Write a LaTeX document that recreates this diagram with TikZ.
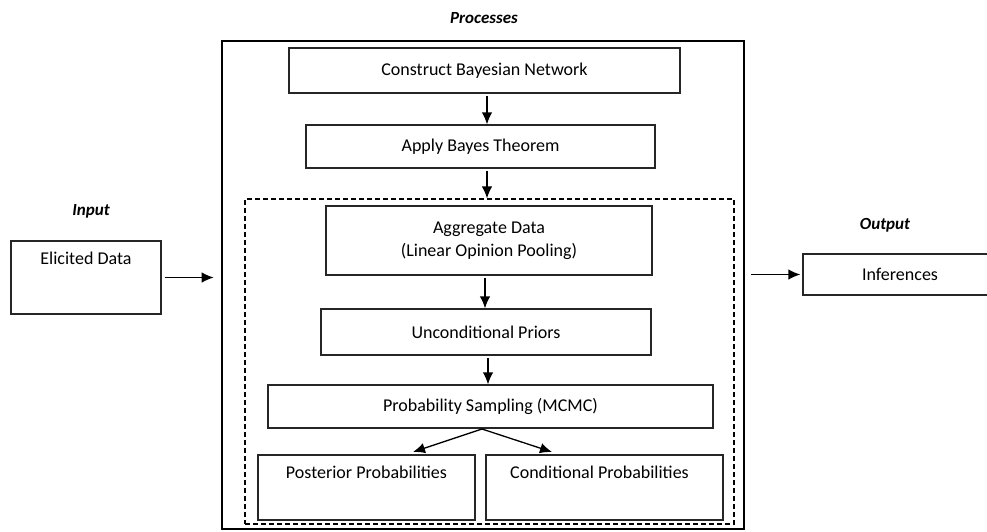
\documentclass[tikz,border=0pt]{standalone}
\usepackage{fontspec}
\setmainfont{Carlito}
\usetikzlibrary{arrows.meta}
\begin{document}
\begin{tikzpicture}[x=1pt,y=-1pt,
  box/.style={draw=black!85,line width=1.3pt,rectangle,inner sep=0pt,font=\fontsize{18}{23}\selectfont},
  lbl/.style={font=\fontsize{17}{20}\selectfont\bfseries\itshape},
  arr/.style={line width=1.3pt,-{Latex[length=12pt,width=10.5pt]}},
  toptext/.style={font=\fontsize{18}{23}\selectfont,anchor=north,yshift=-8pt}]
\useasboundingbox (0,0) rectangle (987,531);
\clip (0,0) rectangle (987,531);
% containers
\node[draw=black,line width=2.6pt,minimum width=522pt,minimum height=488pt,inner sep=0pt] (proc) at (483,285) {};
\node[draw=black,dash pattern=on 5pt off 3pt,line width=1.2pt,minimum width=489pt,minimum height=325pt,inner sep=0pt] (dash) at (489.5,361.5) {};
% labels
\node[lbl] (lproc) at (484,18) {Processes};
\node[lbl] (lin) at (91,211) {Input};
\node[lbl] (lout) at (885,225) {Output};
% input / output
\node[box,minimum width=150pt,minimum height=73pt,label={[toptext]north:Elicited Data}] (elic) at (86,277.5) {};
\node[box,minimum width=194pt,minimum height=41pt] (inf) at (900,274.5) {Inferences};
% process boxes
\node[box,minimum width=391pt,minimum height=45pt] (cbn) at (484.5,70.5) {Construct Bayesian Network};
\node[box,minimum width=349pt,minimum height=43pt] (abt) at (480.5,146.5) {Apply Bayes Theorem};
\node[box,minimum width=326pt,minimum height=69pt,align=center] (agg) at (489,240.5) {Aggregate Data\\(Linear Opinion Pooling)};
\node[box,minimum width=330pt,minimum height=46pt] (unc) at (486,332) {Unconditional Priors};
\node[box,minimum width=445pt,minimum height=43pt] (ps) at (490.5,406.5) {Probability Sampling (MCMC)};
\node[box,minimum width=217pt,minimum height=65pt,label={[toptext]north:Posterior Probabilities}] (post) at (366.5,487.5) {};
\node[box,minimum width=237pt,minimum height=65pt,label={[toptext,xshift=-5pt]north:Conditional Probabilities}] (cond) at (604.5,487.5) {};
% connectors
\draw[arr] ([yshift=-2pt]cbn.south -| 487,0) -- (abt.north -| 487,0);
\draw[arr] ([yshift=-2pt]abt.south -| 487,0) -- (dash.north -| 487,0);
\draw[arr] ([yshift=-2pt]agg.south -| 485,0) -- (unc.north -| 485,0);
\draw[arr] ([yshift=-2pt]unc.south -| 488,0) -- (ps.north -| 488,0);
\coordinate (split) at (482,429);
\draw[arr] (split) -- (413,452);
\draw[arr] (split) -- (552,452);
\draw[arr] ([xshift=3pt]elic.east) -- ([xshift=-7pt]proc.west |- elic.east);
\draw[arr] ([xshift=6pt]proc.east |- inf.west) -- ([xshift=-2pt]inf.west);
\end{tikzpicture}
\end{document}
